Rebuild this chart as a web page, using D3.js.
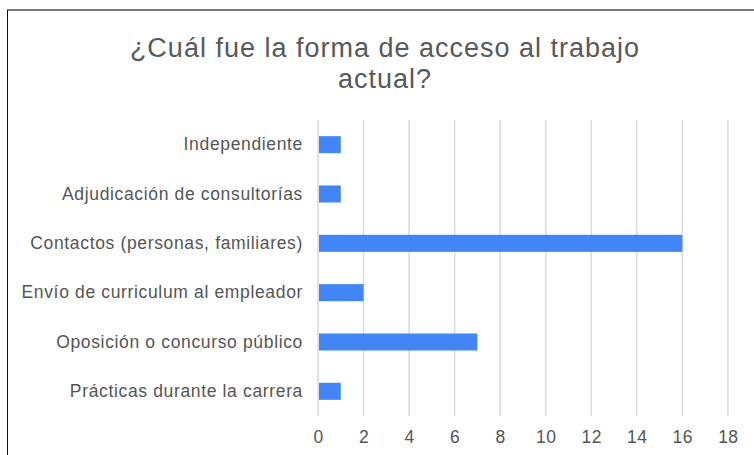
<!DOCTYPE html>
<html>
<head>
<meta charset="utf-8">
<script src="https://cdn.jsdelivr.net/npm/d3@7"></script>
<style>
  body { margin: 0; background: #fff; }
  #chart { width: 754px; height: 455px; }
  text { font-family: "Liberation Sans", Arial, sans-serif; }
</style>
</head>
<body>
<div id="chart"></div>
<script>
// chart data
const categories = [
    "Independiente",
    "Adjudicación de consultorías",
    "Contactos (personas, familiares)",
    "Envío de curriculum al empleador",
    "Oposición o concurso público",
    "Prácticas durante la carrera"
];
const counts = [1, 1, 16, 2, 7, 1];
const xTicks = [0, 2, 4, 6, 8, 10, 12, 14, 16, 18];
const titleLines = ["¿Cuál fue la forma de acceso al trabajo", "actual?"];

const W = 754, H = 455;
const margin = { top: 120, right: 26, bottom: 39, left: 318 };
const width = W - margin.left - margin.right;
const height = H - margin.top - margin.bottom;

const svg = d3.select("#chart").append("svg")
    .attr("width", W)
    .attr("height", H);

// frame: grey top edge, dark left edge
svg.append("line")
    .attr("x1", 7).attr("x2", W).attr("y1", 10).attr("y2", 10)
    .style("stroke", "#777").style("stroke-width", 2);
svg.append("line")
    .attr("x1", 7.5).attr("x2", 7.5).attr("y1", 10).attr("y2", H)
    .style("stroke", "#111").style("stroke-width", 1);

// title
svg.append("text")
    .attr("text-anchor", "middle")
    .attr("x", 385)
    .style("fill", "#595959").style("font-size", "27px").style("letter-spacing", "1px")
    .selectAll("tspan").data(titleLines).enter().append("tspan")
    .attr("x", 385)
    .attr("y", (d, i) => 57 + i * 31)
    .text(d => d);

const g = svg.append("g")
    .attr("transform", `translate(${margin.left}, ${margin.top})`);

const x = d3.scaleLinear().domain([0, 18]).range([0, 18 * 22.77]);
const y = d3.scaleBand().domain(categories).range([0, height])
    .paddingInner(0.655).paddingOuter(0.3275);

// vertical gridlines
g.append("g")
    .selectAll("line").data(xTicks).enter().append("line")
    .attr("x1", d => x(d)).attr("x2", d => x(d))
    .attr("y1", 0).attr("y2", height)
    .style("stroke", "#d9d9d9").style("stroke-width", 1.5);

// bars
g.selectAll(".bar").data(categories).enter().append("rect")
    .attr("class", "bar")
    .attr("x", x(0) + 1)
    .attr("y", d => y(d))
    .attr("width", (d, i) => x(counts[i]) - x(0) - 1)
    .attr("height", y.bandwidth())
    .attr("fill", "#4285f4");

// category labels
const yAxis = g.append("g").call(d3.axisLeft(y).tickSize(0).tickPadding(15));
yAxis.select(".domain").remove();
yAxis.selectAll("text")
    .style("fill", "#555").style("font-size", "17.5px").style("letter-spacing", "0.65px")
    .style("font-family", "'Liberation Sans', Arial, sans-serif");

// value axis
const xAxis = g.append("g")
    .attr("transform", `translate(0, ${height})`)
    .call(d3.axisBottom(x).tickValues(xTicks).tickSize(0).tickPadding(15));
xAxis.select(".domain").remove();
xAxis.selectAll("text")
    .style("fill", "#555").style("font-size", "17.5px").style("letter-spacing", "0.5px")
    .style("font-family", "'Liberation Sans', Arial, sans-serif");
</script>
</body>
</html>
